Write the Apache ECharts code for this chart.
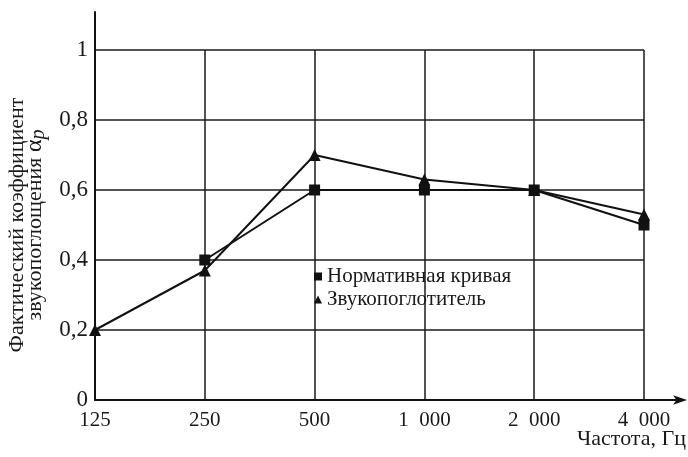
<!DOCTYPE html>
<html>
<head>
<meta charset="utf-8">
<script src="https://cdn.jsdelivr.net/npm/echarts@6/dist/echarts.min.js"></script>
<style>html,body{margin:0;padding:0;background:#fff}#c{width:688px;height:457px}</style>
</head>
<body>
<div id="c"></div>
<script>
var categories = ['125', '250', '500', '1\u2002000', '2\u2002000', '4\u2002000'];
var normative = [null, 0.4, 0.6, 0.6, 0.6, 0.5];
var absorber = [0.2, 0.37, 0.7, 0.63, 0.6, 0.53];
var yTicks = [0, 0.2, 0.4, 0.6, 0.8, 1];
var seriesNames = ['Нормативная кривая', 'Звукопоглотитель'];

var FONT = '"Liberation Serif", "DejaVu Serif", serif';
var INK = '#1a1a1a';

var chart = echarts.init(document.getElementById('c'));
chart.setOption({
  animation: false,
  backgroundColor: '#fff',
  textStyle: { fontFamily: FONT, color: INK },
  title: {
    text: 'Частота, Гц',
    right: -3, bottom: 2,
    textStyle: { fontFamily: FONT, fontSize: 22, fontWeight: 'normal', color: INK }
  },
  legend: {
    orient: 'vertical',
    left: 309, top: 261,
    itemWidth: 8, itemHeight: 8, itemGap: 2,
    textStyle: { fontFamily: FONT, fontSize: 21, color: INK, lineHeight: 20 },
    data: [
      { name: seriesNames[0], icon: 'rect' },
      { name: seriesNames[1], icon: 'triangle' }
    ]
  },
  grid: [
    { left: 95, right: 44, top: 50, bottom: 57, outerBoundsMode: 'none', containLabel: false },
    { left: 95, right: 5, top: 12, bottom: 57, outerBoundsMode: 'none', containLabel: false }
  ],
  xAxis: [
    {
      type: 'category', gridIndex: 0, data: categories, boundaryGap: false,
      axisLine: { show: false }, axisTick: { show: false },
      axisLabel: { fontFamily: FONT, fontSize: 21, color: INK, margin: 10 },
      splitLine: { show: true, lineStyle: { color: '#1a1a1a', width: 1.5 } }
    },
    {
      type: 'value', gridIndex: 1, min: 0, max: 1,
      axisLine: { show: true, symbol: ['none', 'arrow'], symbolSize: [7, 14], symbolOffset: [0, 4],
        lineStyle: { color: '#111', width: 2 } },
      axisTick: { show: false }, axisLabel: { show: false }, splitLine: { show: false }
    }
  ],
  yAxis: [
    {
      type: 'value', gridIndex: 0, min: 0, max: 1, interval: 0.2,
      axisLine: { show: false }, axisTick: { show: false },
      axisLabel: {
        fontFamily: FONT, fontSize: 23, color: INK, margin: 7,
        formatter: function (v) { return String(Math.round(v * 10) / 10).replace('.', ','); }
      },
      splitLine: { show: true, lineStyle: { color: '#1a1a1a', width: 1.5 } },
      name: 'Фактический коэффициент\nзвукопоглощения {a|α}{p|p}',
      nameLocation: 'middle', nameRotate: 90, nameGap: 49,
      nameTextStyle: {
        fontFamily: FONT, fontSize: 22, color: INK, lineHeight: 18,
        rich: {
          a: { fontFamily: FONT, fontSize: 24, color: INK, lineHeight: 18 },
          p: { fontFamily: FONT, fontSize: 20, fontStyle: 'italic', color: INK, lineHeight: 18, padding: [7, 0, 0, 0] }
        }
      }
    },
    {
      type: 'value', gridIndex: 1, min: 0, max: 1,
      axisLine: { show: true, lineStyle: { color: '#111', width: 2 } },
      axisTick: { show: false }, axisLabel: { show: false }, splitLine: { show: false }
    }
  ],
  series: [
    {
      name: seriesNames[0], type: 'line', xAxisIndex: 0, yAxisIndex: 0,
      data: normative, symbol: 'rect', symbolSize: 11,
      itemStyle: { color: '#111' }, lineStyle: { color: '#111', width: 2 }, z: 3
    },
    {
      name: seriesNames[1], type: 'line', xAxisIndex: 0, yAxisIndex: 0,
      data: absorber, symbol: 'triangle', symbolSize: 12,
      itemStyle: { color: '#111' }, lineStyle: { color: '#111', width: 2 }, z: 4
    }
  ]
});
</script>
</body>
</html>
